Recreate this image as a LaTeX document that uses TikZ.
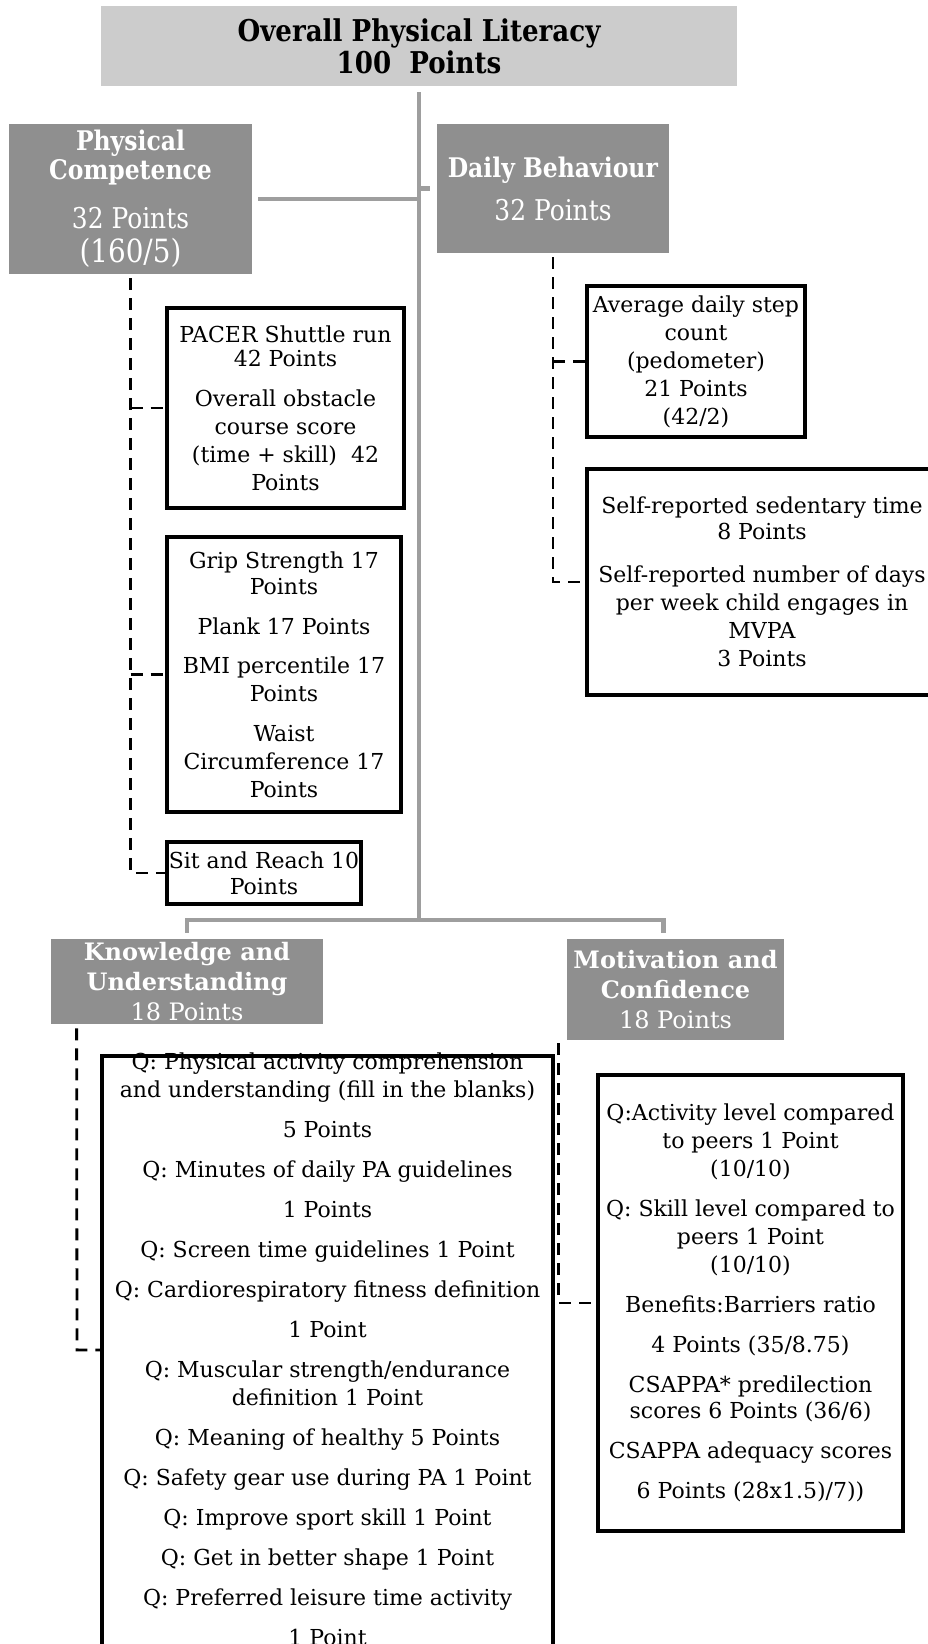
\documentclass[tikz,border=0pt]{standalone}
\usepackage{fontspec}
\setmainfont{DejaVu Serif}
\newfontfamily\headfont[FakeStretch=0.87]{DejaVu Serif}
\newcommand{\bodysize}{\fontsize{11}{14}\selectfont}

\tikzset{
  topbox/.style={fill=gray!40, inner sep=0pt, align=center, minimum width=318pt, minimum height=40pt,
    font=\headfont\bfseries\fontsize{15}{16}\selectfont},
  headbox/.style={fill=black!44, text=white, inner sep=0pt, align=center,
    font=\headfont\fontsize{13.5}{16}\selectfont},
  lowhead/.style={fill=black!44, text=white, inner sep=0pt, align=center,
    font=\fontsize{12}{15}\selectfont},
  listbox/.style={draw=black, line width=2.2pt, inner sep=0pt, align=center, font=\bodysize},
  treeline/.style={draw=black!38, line width=2.2pt},
  dashlink/.style={draw=black, line width=1.4pt, dash pattern=on 6pt off 4pt}
}

\begin{document}
\begin{tikzpicture}[x=0.5pt,y=-0.5pt]
  \useasboundingbox (0,0) rectangle (927,1644);

  \node[topbox] (overall) at (419,46) {Overall Physical Literacy\\100~ Points};

  \node[headbox, minimum width=121.5pt, minimum height=75pt] (pc) at (130.5,199)
    {\textbf{Physical}\\[-1.5pt]\textbf{Competence}\\[8.5pt]{\fontsize{14.3}{16}\selectfont 32 Points}\\[1pt]{\fontsize{16}{16}\selectfont (160/5)}};
  \node[headbox, minimum width=116pt, minimum height=64.5pt] (db) at (553,188.5)
    {\textbf{Daily Behaviour}\\[5.5pt]{\fontsize{14.3}{16}\selectfont 32 Points}};

  \node[listbox, minimum width=118.5pt, minimum height=100pt] (pacer) at (285.5,408)
    {PACER Shuttle run\\[-2pt]42 Points\\[6pt]Overall obstacle\\course score\\(time + skill)~ 42\\Points};
  \node[listbox, minimum width=117pt, minimum height=137.5pt] (grip) at (284,674.5)
    {Grip Strength 17\\[-1pt]Points\\[6pt]Plank 17 Points\\[5.5pt]BMI percentile 17\\Points\\[6pt]Waist\\Circumference 17\\Points};
  \node[listbox, minimum width=97pt, minimum height=31pt] (sit) at (264,873)
    {Sit and Reach 10\\[-1pt]Points};

  \node[listbox, minimum width=109pt, minimum height=75.5pt] (step) at (696,361.5)
    {Average daily step\\count\\(pedometer)\\21 Points\\(42/2)};
  \node[listbox, minimum width=175pt, minimum height=113pt] (self) at (762,582)
    {Self-reported sedentary time\\[-1pt]8 Points\\[7.5pt]Self-reported number of days\\per week child engages in\\MVPA\\3 Points};

  \coordinate (hub) at (419,920);
  \draw[treeline] ([yshift=-3pt]overall.south) -- (hub);
  \draw[treeline] ([xshift=3pt]pc.east) -- (pc.east -| hub);
  \draw[treeline] (db.west -| hub) -- ([xshift=-3.5pt]db.west);

  \draw[dashlink] ([yshift=-2pt]pc.south) -- (pc.south |- sit.west) -- (sit.west);
  \foreach \b in {pacer,grip}
    \draw[dashlink] (pc.south |- \b.west) -- (\b.west);
  \draw[dashlink] ([yshift=-2pt]db.south) -- (db.south |- self.west) -- (self.west);
  \draw[dashlink] (db.south |- step.west) -- (step.west);

  \node[lowhead, minimum width=136pt, minimum height=42.5pt] (ku) at (187,981.5)
    {\textbf{Knowledge and}\\\textbf{Understanding}\\18 Points};
  \node[lowhead, minimum width=108.5pt, minimum height=50.5pt] (mc) at (675.5,989.5)
    {\textbf{Motivation and}\\\textbf{Confidence}\\18 Points};

  \coordinate (mctick) at ([xshift=-6pt]mc.north);
  \draw[treeline] ([yshift=3pt]ku.north) -- (ku.north |- hub) -- (mctick |- hub) -- ([yshift=3pt]mctick);

  \node[font=\bodysize, align=center] (kutext) at (327.5,1349)
    {Q: Physical activity comprehension\\and understanding (fill in the blanks)\\[6pt]5 Points\\[6pt]Q: Minutes of daily PA guidelines\\[6pt]1 Points\\[6pt]Q: Screen time guidelines 1 Point\\[6pt]Q: Cardiorespiratory fitness definition\\[6pt]1 Point\\[6pt]Q: Muscular strength/endurance\\definition 1 Point\\[6pt]Q: Meaning of healthy 5 Points\\[6pt]Q: Safety gear use during PA 1 Point\\[6pt]Q: Improve sport skill 1 Point\\[6pt]Q: Get in better shape 1 Point\\[6pt]Q: Preferred leisure time activity\\[6pt]1 Point};
  \node[listbox, minimum width=225.5pt, minimum height=332pt] (kulist) at (327.5,1388) {};

  \node[listbox, minimum width=152.5pt, minimum height=228pt] (mclist) at (750.5,1303)
    {Q:Activity level compared\\to peers 1 Point\\(10/10)\\[6pt]Q: Skill level compared to\\peers 1 Point\\(10/10)\\[6pt]Benefits:Barriers ratio\\[6pt]4 Points (35/8.75)\\[6pt]CSAPPA* predilection\\[-1pt]scores 6 Points (36/6)\\[6pt]CSAPPA adequacy scores\\[6pt]6 Points (28x1.5)/7))};

  \coordinate (kujoin) at (77,1350);
  \draw[dashlink] ([xshift=13pt,yshift=-2pt]ku.south west) -- (kujoin) -- (kujoin -| kulist.west);
  \coordinate (mcleft) at ([xshift=-4pt,yshift=-1.5pt]mc.south west);
  \draw[dashlink] (mcleft) -- (mcleft |- mclist.west) -- (mclist.west);
\end{tikzpicture}
\end{document}
